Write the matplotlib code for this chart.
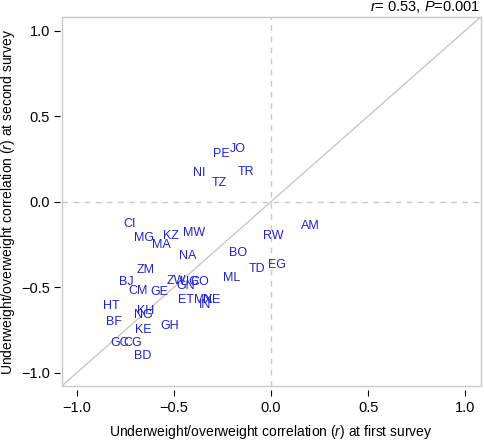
import matplotlib
matplotlib.use("Agg")
import matplotlib.pyplot as plt
from matplotlib.patches import Rectangle

plt.rcParams['font.family'] = ['Liberation Sans', 'DejaVu Sans']
plt.rcParams['mathtext.fontset'] = 'custom'
plt.rcParams['mathtext.rm'] = 'Liberation Sans'
plt.rcParams['mathtext.it'] = 'Liberation Sans:italic'

# country codes and correlation at first / second survey
codes = ['PE', 'JO', 'NI', 'TR', 'TZ', 'CI', 'MG', 'MA', 'KZ', 'MW',
         'RW', 'AM', 'BO', 'NA', 'ZM', 'TD', 'EG', 'ML', 'BJ', 'ZW',
         'GN', 'UG', 'CO', 'CM', 'GE', 'HT', 'KH', 'NG', 'ET', 'MX',
         'NE', 'IN', 'BF', 'KE', 'GH', 'GC', 'CG', 'BD']
r_first = [-0.258, -0.170, -0.371, -0.129, -0.268, -0.732, -0.655, -0.567, -0.515, -0.397,
           0.010, 0.201, -0.170, -0.428, -0.649, -0.072, 0.031, -0.201, -0.747, -0.490,
           -0.438, -0.423, -0.366, -0.686, -0.577, -0.825, -0.649, -0.660, -0.438, -0.351,
           -0.309, -0.340, -0.809, -0.660, -0.521, -0.778, -0.716, -0.660]
r_second = [0.276, 0.306, 0.165, 0.176, 0.106, -0.129, -0.212, -0.253, -0.200, -0.182,
            -0.200, -0.141, -0.300, -0.318, -0.400, -0.394, -0.371, -0.447, -0.471, -0.465,
            -0.494, -0.471, -0.471, -0.524, -0.530, -0.612, -0.641, -0.665, -0.576, -0.576,
            -0.576, -0.606, -0.706, -0.753, -0.729, -0.829, -0.829, -0.906]

ticks = [-1.0, -0.5, 0.0, 0.5, 1.0]
tick_labels = ['\u22121.0', '\u22120.5', '0.0', '0.5', '1.0']
lim = (-1.08, 1.08)

fig = plt.figure(figsize=(4.85, 4.48), dpi=100)
ax = fig.add_axes([0.127, 0.138, 0.864, 0.824])
ax.set_xlim(lim)
ax.set_ylim(lim)

grey = '#c8c8c8'
ax.plot(lim, lim, color=grey, lw=1)
ax.axhline(0, color=grey, lw=1, ls=(0, (4, 4)))
ax.axvline(0, color=grey, lw=1, ls=(0, (4, 4)))

for c, x, y in zip(codes, r_first, r_second):
    ax.text(x, y, c, color='#2222cc', fontsize=9, ha='center', va='center')

# box drawn separately so ticks can sit outside it (R style)
ax.add_patch(Rectangle((0, 0), 1, 1, transform=ax.transAxes, fill=False,
                       edgecolor=grey, lw=1, clip_on=False))
for s in ax.spines.values():
    s.set_visible(False)
ax.spines['bottom'].set_visible(True)
ax.spines['left'].set_visible(True)
ax.spines['bottom'].set_position(('outward', 3))
ax.spines['left'].set_position(('outward', 1))
ax.spines['bottom'].set_color('none')
ax.spines['left'].set_color('none')

ax.set_xticks(ticks)
ax.set_yticks(ticks)
ax.set_xticklabels(tick_labels)
ax.set_yticklabels(tick_labels)
ax.tick_params(direction='out', length=4.5, width=0.8, labelsize=10.5, pad=3)

ax.set_xlabel('Underweight/overweight correlation ($\\it{r}$) at first survey',
              fontsize=10, labelpad=6)
ax.set_ylabel('Underweight/overweight correlation ($\\it{r}$) at second survey',
              fontsize=10, labelpad=3)
ax.text(1.0, 1.005, '$\\it{r}$= 0.53, $\\it{P}$=0.001', transform=ax.transAxes,
        ha='right', va='bottom', fontsize=10.5)

fig.savefig('out.png', dpi=100)
